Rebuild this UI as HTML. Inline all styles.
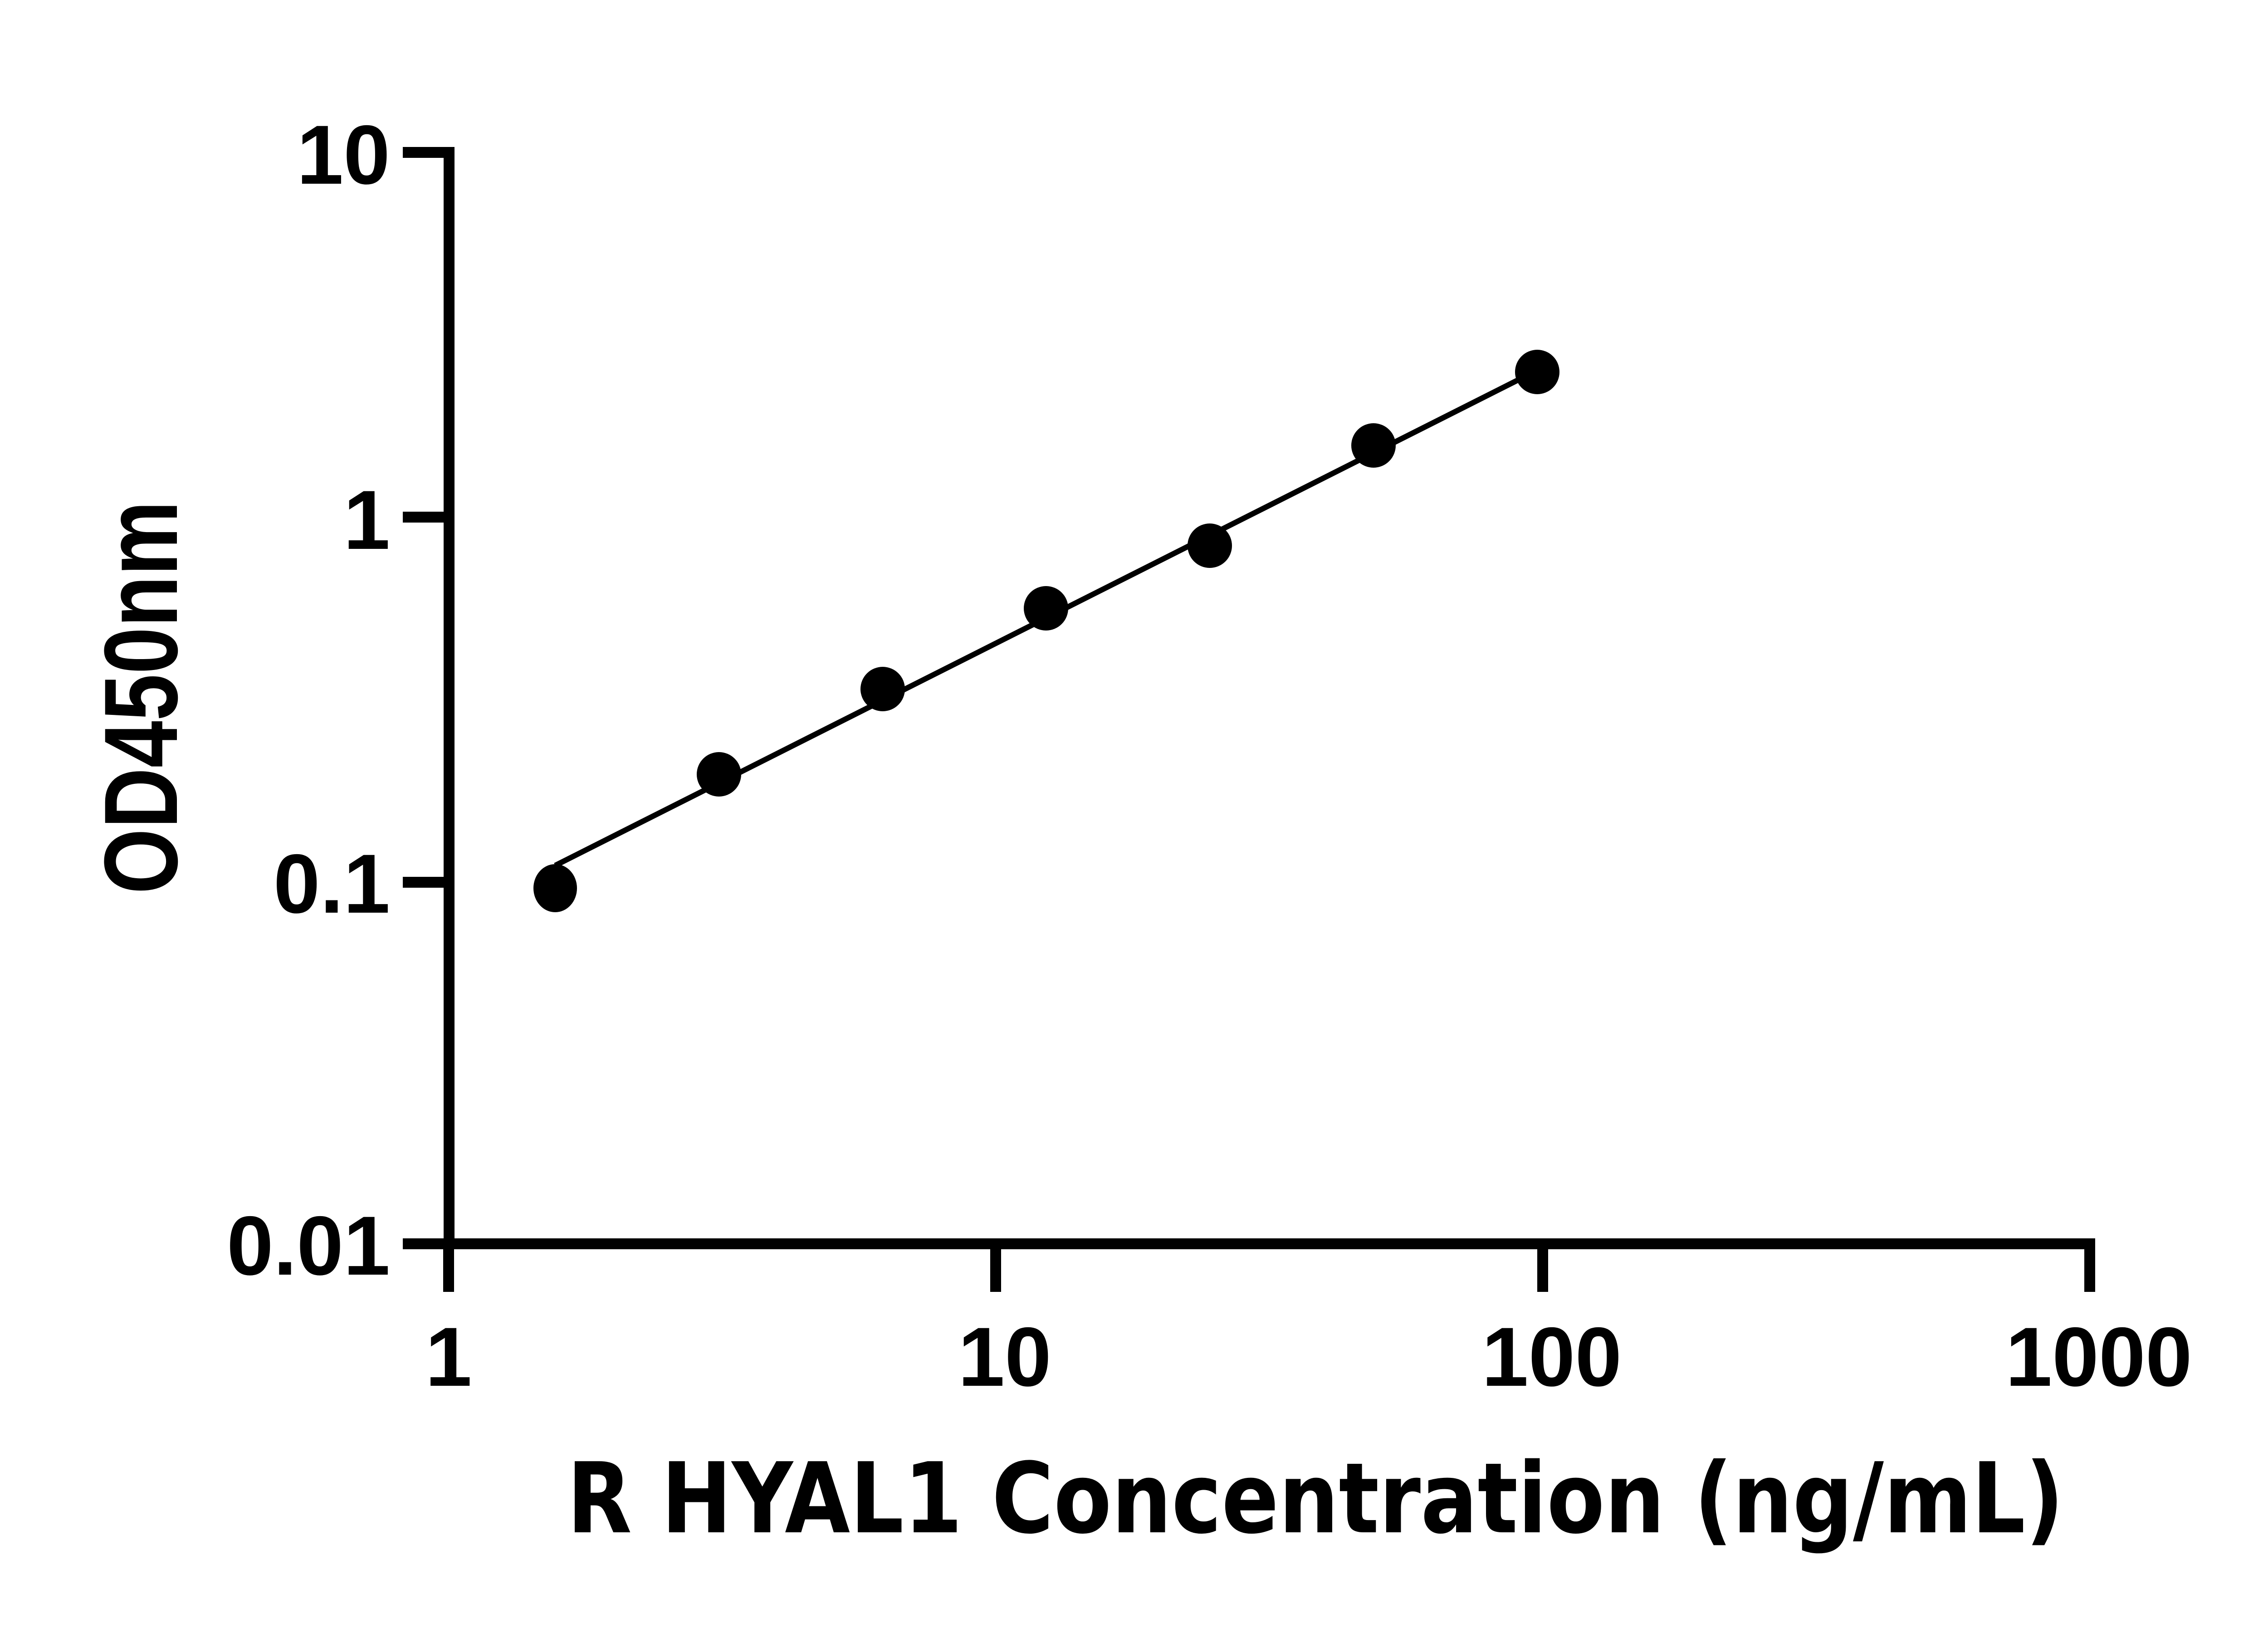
<!DOCTYPE html>
<html><head><meta charset="utf-8"><style>html,body{margin:0;padding:0;background:#fff}svg{display:block}</style></head>
<body>
<svg width="5142" height="3600" viewBox="0 0 5142 3600" xmlns="http://www.w3.org/2000/svg">
<rect width="5142" height="3600" fill="#fff"/>
<g stroke="#000" stroke-width="24" fill="none" stroke-linecap="butt">
<path d="M888 336 H990 V2742"/>
<line x1="888" y1="1140" x2="990" y2="1140"/>
<line x1="888" y1="1945" x2="990" y2="1945"/>
<line x1="888" y1="2742" x2="4607" y2="2742"/>
<line x1="989" y1="2742" x2="989" y2="2848"/>
<line x1="2195" y1="2742" x2="2195" y2="2848"/>
<line x1="3401" y1="2742" x2="3401" y2="2848"/>
<line x1="4607" y1="2730" x2="4607" y2="2848"/>
</g>
<line x1="1224" y1="1908" x2="3350" y2="836" stroke="#000" stroke-width="12"/>
<g fill="#000">
<ellipse cx="1224" cy="1958" rx="48" ry="53"/>
<circle cx="1585" cy="1707" r="49"/>
<circle cx="1946" cy="1519" r="49"/>
<circle cx="2306" cy="1341" r="49"/>
<circle cx="2667" cy="1203" r="49"/>
<circle cx="3028" cy="982" r="49"/>
<circle cx="3389" cy="820" r="49"/>
</g>
<g style="font-family:'Liberation Sans',Arial,sans-serif;font-weight:bold;font-size:185px" fill="#000">
<text x="860" y="405" text-anchor="end">10</text>
<text x="860" y="1210" text-anchor="end">1</text>
<text x="860" y="2012" text-anchor="end">0.1</text>
<text x="860" y="2810" text-anchor="end">0.01</text>
<text x="989" y="3055" text-anchor="middle">1</text>
<text x="2215" y="3055" text-anchor="middle">10</text>
<text x="3421" y="3055" text-anchor="middle">100</text>
<text x="4627" y="3055" text-anchor="middle">1000</text>
</g>
<text x="1250" y="3378" style="font-family:'DejaVu Sans','Liberation Sans',sans-serif;font-weight:bold;font-size:215px" textLength="3300" lengthAdjust="spacingAndGlyphs">R HYAL1 Concentration (ng/mL)</text>
<text transform="translate(390,1971) rotate(-90)" style="font-family:'Liberation Sans',Arial,sans-serif;font-weight:bold;font-size:230px" textLength="867" lengthAdjust="spacingAndGlyphs">OD450nm</text>
</svg>
</body></html>
